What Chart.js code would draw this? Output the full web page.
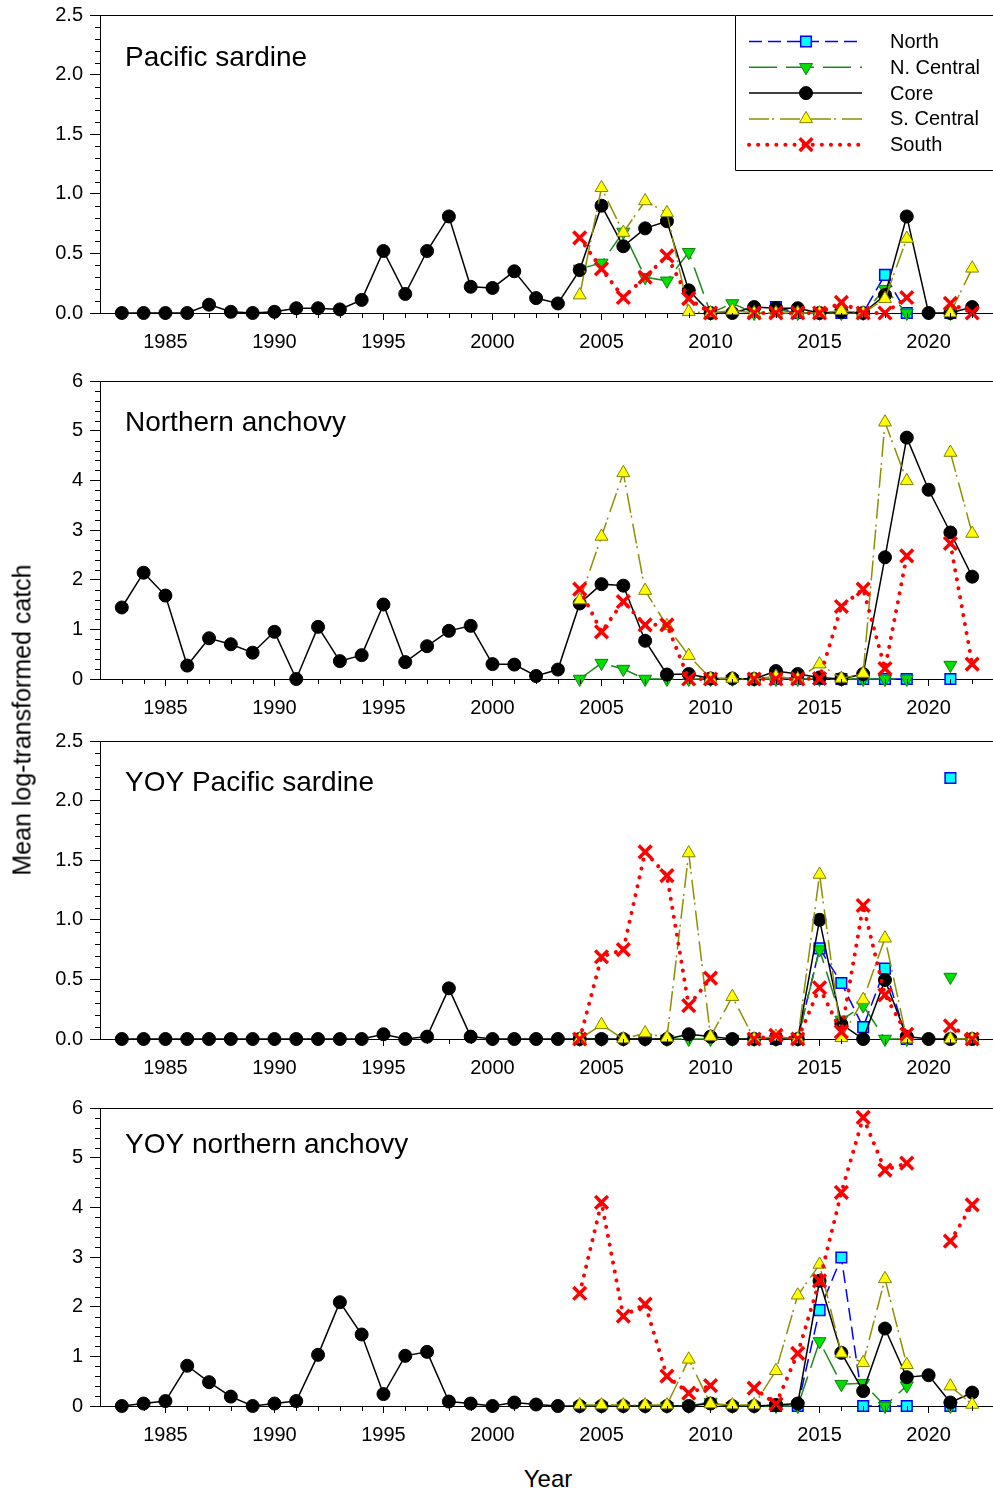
<!DOCTYPE html>
<html>
<head>
<meta charset="utf-8">
<script src="https://cdn.jsdelivr.net/npm/chart.js@4.4.0/dist/chart.umd.min.js"></script>
<style>
  html, body { margin:0; padding:0; background:#fff; }
  body { width:993px; height:1494px; position:relative; overflow:hidden; font-family:"Liberation Sans", Arial, sans-serif; color:#000; }
  canvas.panel { position:absolute; left:0; }
  .ylab { position:absolute; left:22px; top:720px; transform:translate(-50%,-50%) rotate(-90deg); font-size:25px; white-space:nowrap; line-height:25px; }
  .xlab { position:absolute; left:548px; top:1467px; transform:translateX(-50%); font-size:24px; line-height:24px; }
</style>
</head>
<body>
<canvas class="panel" id="p1" width="994" height="363" style="top:0px"></canvas>
<canvas class="panel" id="p2" width="994" height="363" style="top:366px"></canvas>
<canvas class="panel" id="p3" width="994" height="363" style="top:726px"></canvas>
<canvas class="panel" id="p4" width="994" height="363" style="top:1093px"></canvas>
<div class="ylab">Mean log-transformed catch</div>
<div class="xlab">Year</div>
<script>
// ── data ─────────────────────────────────────────────
const years = [1983,1984,1985,1986,1987,1988,1989,1990,1991,1992,
               1993,1994,1995,1996,1997,1998,1999,2000,2001,2002,
               2003,2004,2005,2006,2007,2008,2009,2010,2011,2012,
               2013,2014,2015,2016,2017,2018,2019,2020,2021,2022];
const regionYears = [2004,2005,2006,2007,2008,2009,2010,2011,2012,2013,
                     2014,2015,2016,2017,2018,2019,2020,2021,2022];
const majorYears = [1985,1990,1995,2000,2005,2010,2015,2020];
const seriesNames = ['North','N. Central','Core','S. Central','South'];
const panelTitles = ['Pacific sardine','Northern anchovy','YOY Pacific sardine','YOY northern anchovy'];

// Pacific sardine
const sardineCore = [0,0,0,0,0.07,0.01,0,0.01,0.04,0.04,
                     0.03,0.11,0.52,0.16,0.52,0.81,0.22,0.21,0.35,0.125,
                     0.08,0.36,0.90,0.56,0.71,0.77,0.19,0,0,0.05,
                     0.04,0.04,0,0.01,0,0.15,0.81,0,0,0.05];
const sardineNorth = [null,null,null,null,null,null,null,null,null,0.05,0,0,0,0,0.32,0,null,0,null];
const sardineNCentral = [0.37,0.42,0.68,0.30,0.27,0.51,0,0.08,0,0.03,0,0,0,0,0.2,0,null,0,null];
const sardineSCentral = [0.15,1.05,0.675,0.94,0.84,0.01,0,0.02,0,0,0,0,0.02,0,0.12,0.625,null,0,0.375];
const sardineSouth = [0.63,0.37,0.13,0.30,0.48,0.12,0,null,0,0,0,0,0.09,0,0,0.13,null,0.08,0];

// Northern anchovy
const anchovyCore = [1.44,2.14,1.68,0.27,0.82,0.70,0.53,0.95,0,1.05,
                     0.36,0.48,1.50,0.34,0.66,0.97,1.07,0.30,0.29,0.06,
                     0.19,1.52,1.91,1.88,0.77,0.09,0.10,0.01,0.01,0,
                     0.16,0.10,0.03,0,0.10,2.45,4.86,3.81,2.95,2.06];
const anchovyNorth = [null,null,null,null,null,null,null,null,null,0,0,0,0,0,0,0,null,0,null];
const anchovyNCentral = [0,0.32,0.20,0,0,0,0,0,0,0,0,0,0,0,0,0,null,0.28,null];
const anchovySCentral = [1.59,2.87,4.15,1.78,1.07,0.47,0.01,0.01,0,0.05,0,0.30,0.01,0.11,5.17,3.99,null,4.56,2.93];
const anchovySouth = [1.81,0.95,1.56,1.09,1.09,0,0,null,0,0,0,0.01,1.46,1.81,0.21,2.48,null,2.73,0.30];

// YOY Pacific sardine
const yoySardineCore = [0,0,0,0,0,0,0,0,0,0,
                        0,0,0.04,0,0.02,0.425,0.02,0,0,0,
                        0,0,0,0,0,0,0.04,0.02,0,0,
                        0,0,1.00,0.125,0,0.495,0.02,0,0,0];
const yoySardineNorth = [null,null,null,null,null,null,null,null,null,0,0,0.76,0.47,0.10,0.59,0,null,2.19,null];
const yoySardineNCentral = [0,0,0,0,0,0,0,0,0,0,0,0.75,0.16,0.28,0,0,null,0.52,null];
const yoySardineSCentral = [0,0.12,0,0.05,0.01,1.56,0.02,0.355,0,0.02,0,1.38,0.01,0.33,0.845,0,null,0,0];
const yoySardineSouth = [0,0.69,0.75,1.57,1.37,0.28,0.51,null,0,0.03,0,0.43,0.06,1.12,0.37,0.04,null,0.11,0];

// YOY northern anchovy
const yoyAnchovyCore = [0,0.05,0.10,0.81,0.48,0.19,0,0.05,0.10,1.03,
                        2.09,1.44,0.24,1.01,1.09,0.09,0.05,0,0.07,0.03,
                        0,0,0,0,0,0,0,0.05,0,0,
                        0.02,0.05,2.52,1.07,0.30,1.56,0.58,0.62,0.07,0.27];
const yoyAnchovyNorth = [null,null,null,null,null,null,null,null,null,0,0,1.93,2.99,0,0,0,null,0,null];
const yoyAnchovyNCentral = [0,0,0,0,0,0,0.08,0,0,0,0,1.30,0.44,0.46,0,0.41,null,0,null];
const yoyAnchovySCentral = [0.02,0.02,0.02,0.02,0.02,0.94,0.04,0.02,0.02,0.71,2.23,2.85,1.06,0.87,2.56,0.83,null,0.40,0.03];
const yoyAnchovySouth = [2.27,4.10,1.81,2.05,0.60,0.26,0.41,null,0.36,0.04,1.06,2.52,4.30,5.81,4.75,4.89,null,3.32,4.05];

// ── styles ───────────────────────────────────────────
const FONT = '"Liberation Sans", Arial, sans-serif';

const STYLES = [
  { borderColor:'#0000FF', borderWidth:1.5, borderDash:[13,6],
    pointStyle:'rect', pointRadius:7.5, pointRotation:0,
    pointBackgroundColor:'#00FFFF', pointBorderColor:'#0000FF', pointBorderWidth:1.5, order:5 },
  { borderColor:'#1A8A1A', borderWidth:1.5, borderDash:[28,9],
    pointStyle:'triangle', pointRadius:7.5, pointRotation:180,
    pointBackgroundColor:'#00E000', pointBorderColor:'#108010', pointBorderWidth:1, order:4 },
  { borderColor:'#000000', borderWidth:1.5, borderDash:[],
    pointStyle:'circle', pointRadius:6.5, pointRotation:0,
    pointBackgroundColor:'#000000', pointBorderColor:'#000000', pointBorderWidth:1, order:3 },
  { borderColor:'#8F8F00', borderWidth:1.5, borderDash:[20,3,2,6],
    pointStyle:'triangle', pointRadius:7.5, pointRotation:0,
    pointBackgroundColor:'#FFFF00', pointBorderColor:'#808000', pointBorderWidth:1, order:2 },
  { borderColor:'#FF0000', borderWidth:4, borderDash:[0.1,9], borderCapStyle:'round',
    pointStyle:'crossRot', pointRadius:9, pointRotation:0,
    pointBackgroundColor:'#FF0000', pointBorderColor:'#FF0000', pointBorderWidth:3.5, order:1 },
];

function toPts(xs, ys) { return xs.map((x, i) => ({ x, y: ys[i] })); }

// ── legend marker (same shapes as chart.js draws) ────
function drawMarker(ctx, s, x, y) {
  const r = s.pointRadius;
  ctx.setLineDash([]);
  ctx.lineWidth = s.pointBorderWidth;
  ctx.strokeStyle = s.pointBorderColor;
  ctx.fillStyle = s.pointBackgroundColor;
  ctx.beginPath();
  if (s.pointStyle === 'circle') {
    ctx.arc(x, y, r, 0, Math.PI * 2);
  } else if (s.pointStyle === 'rect') {
    const h = r * Math.SQRT1_2;
    ctx.rect(x - h, y - h, 2 * h, 2 * h);
  } else if (s.pointStyle === 'triangle') {
    let rad = s.pointRotation * Math.PI / 180;
    for (let k = 0; k < 3; k++) {
      const px = x + Math.sin(rad) * r, py = y - Math.cos(rad) * r;
      k ? ctx.lineTo(px, py) : ctx.moveTo(px, py);
      rad += 2 * Math.PI / 3;
    }
    ctx.closePath();
  } else if (s.pointStyle === 'crossRot') {
    const o = Math.cos(Math.PI / 4) * r;
    ctx.moveTo(x - o, y - o); ctx.lineTo(x + o, y + o);
    ctx.moveTo(x - o, y + o); ctx.lineTo(x + o, y - o);
    ctx.stroke();
    return;
  }
  ctx.fill();
  ctx.stroke();
}

// ── frame, minor ticks, panel title, legend ─────────
const panelDeco = {
  id: 'panelDeco',
  afterDraw(chart, args, opts) {
    const { ctx, chartArea: a, scales: { x, y } } = chart;
    ctx.save();
    ctx.strokeStyle = '#000';
    ctx.lineWidth = 1;
    ctx.setLineDash([]);
    ctx.beginPath();
    ctx.moveTo(a.left, a.top + 0.5); ctx.lineTo(chart.width, a.top + 0.5);
    years.forEach(yr => {
      if (majorYears.includes(yr)) return;
      const px = Math.round(x.getPixelForValue(yr)) + 0.5;
      ctx.moveTo(px, a.bottom); ctx.lineTo(px, a.bottom + 5);
    });
    const n = Math.round(y.max / opts.minor);
    const per = Math.round(opts.major / opts.minor);
    for (let k = 1; k < n; k++) {
      if (k % per === 0) continue;
      const py = Math.round(y.getPixelForValue(k * opts.minor)) + 0.5;
      ctx.moveTo(a.left - 5, py); ctx.lineTo(a.left, py);
    }
    ctx.stroke();

    ctx.fillStyle = '#000';
    ctx.font = '28px ' + FONT;
    ctx.textBaseline = 'alphabetic';
    ctx.textAlign = 'left';
    ctx.fillText(opts.title, a.left + 25, a.top + opts.titleY);

    if (opts.legend) {
      const bx = 735, by = a.top;
      ctx.fillStyle = '#fff';
      ctx.fillRect(bx, by, 300, 155);
      ctx.strokeStyle = '#000';
      ctx.lineWidth = 1;
      ctx.beginPath();
      ctx.moveTo(chart.width, by + 0.5); ctx.lineTo(bx + 0.5, by + 0.5);
      ctx.lineTo(bx + 0.5, by + 155.5); ctx.lineTo(chart.width, by + 155.5);
      ctx.stroke();
      ctx.font = '20px ' + FONT;
      ctx.textBaseline = 'middle';
      STYLES.forEach((s, i) => {
        const ry = by + 26.5 + i * 25.8;
        ctx.save();
        ctx.strokeStyle = s.borderColor;
        ctx.lineWidth = s.borderWidth;
        ctx.lineCap = s.borderCapStyle || 'butt';
        ctx.setLineDash(s.borderDash);
        ctx.beginPath();
        ctx.moveTo(749, ry); ctx.lineTo(862, ry);
        ctx.stroke();
        ctx.restore();
        drawMarker(ctx, s, 806, ry);
        ctx.fillStyle = '#000';
        ctx.fillText(seriesNames[i], 890, ry + 1);
      });
    }
    ctx.restore();
  }
};

function makePanel(id, p) {
  const sets = [p.north, p.nCentral, null, p.sCentral, p.south];
  const datasets = STYLES.map((s, i) => Object.assign({
    label: seriesNames[i],
    data: i === 2 ? toPts(years, p.core) : toPts(regionYears, sets[i]),
    fill: false, tension: 0, spanGaps: false, clip: false,
  }, s));

  new Chart(document.getElementById(id), {
    type: 'line',
    data: { datasets },
    plugins: [panelDeco],
    options: {
      responsive: false,
      animation: false,
      devicePixelRatio: 1,
      layout: { autoPadding: false, padding: { top: 15, left: 0, right: 0, bottom: 0 } },
      plugins: {
        legend: { display: false },
        tooltip: { enabled: false },
        panelDeco: { title: p.title, minor: p.minor, major: p.step, legend: !!p.legend, titleY: p.titleY },
      },
      scales: {
        x: {
          type: 'linear', min: 1982, max: 2023, bounds: 'data',
          afterBuildTicks: ax => { ax.ticks = majorYears.map(v => ({ value: v })); },
          afterFit: ax => { ax.height = 50; ax.paddingLeft = 0; ax.paddingRight = 0; },
          ticks: { color: '#000', font: { family: FONT, size: 20 }, padding: 10, maxRotation: 0,
                   autoSkip: false, callback: v => String(v) },
          grid: { drawOnChartArea: false, drawTicks: true, tickLength: 7, tickColor: '#000', tickWidth: 1 },
          border: { display: true, color: '#000', width: 1 },
        },
        y: {
          min: 0, max: p.max, bounds: 'data',
          // fixed axis width; drop the label padding so the frame top sits at the layout padding
          afterFit: ax => { ax.width = 100; ax.paddingTop = 0; ax.paddingBottom = 0; },
          ticks: { stepSize: p.step, color: '#000', font: { family: FONT, size: 20 }, padding: 7,
                   callback: v => v.toFixed(p.decimals) },
          grid: { drawOnChartArea: false, drawTicks: true, tickLength: 10, tickColor: '#000', tickWidth: 1 },
          border: { display: true, color: '#000', width: 1 },
        },
      },
    },
  });
}

makePanel('p1', { title: panelTitles[0], max: 2.5, step: 0.5, minor: 0.1, decimals: 1, titleY: 51, legend: true,
  core: sardineCore, north: sardineNorth, nCentral: sardineNCentral, sCentral: sardineSCentral, south: sardineSouth });
makePanel('p2', { title: panelTitles[1], max: 6, step: 1, minor: 0.2, decimals: 0, titleY: 50,
  core: anchovyCore, north: anchovyNorth, nCentral: anchovyNCentral, sCentral: anchovySCentral, south: anchovySouth });
makePanel('p3', { title: panelTitles[2], max: 2.5, step: 0.5, minor: 0.1, decimals: 1, titleY: 50,
  core: yoySardineCore, north: yoySardineNorth, nCentral: yoySardineNCentral, sCentral: yoySardineSCentral, south: yoySardineSouth });
makePanel('p4', { title: panelTitles[3], max: 6, step: 1, minor: 0.2, decimals: 0, titleY: 45,
  core: yoyAnchovyCore, north: yoyAnchovyNorth, nCentral: yoyAnchovyNCentral, sCentral: yoyAnchovySCentral, south: yoyAnchovySouth });
</script>
</body>
</html>
